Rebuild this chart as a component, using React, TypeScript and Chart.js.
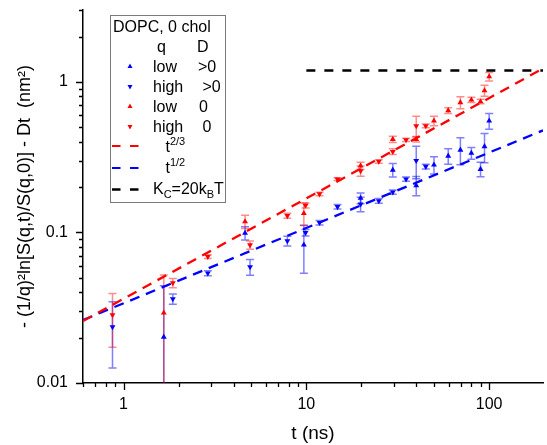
import React, { useEffect, useRef } from "react";
import { Chart, registerables } from "chart.js";

Chart.register(...registerables);

// ---------- data ----------
// low q (upward triangles)
const tLow = [1.66, 4.62, 9.69, 19.8, 29.7, 39.9, 49.9, 59.7, 69.6, 79.9, 89.7, 94.3, 100];
const blueLow = [0.0202, 0.099, 0.0826, 0.169, 0.26, 0.205, 0.281, 0.322, 0.353, 0.336, 0.263, 0.372, 0.551];
const blueLowErr = [0.024, 0.01, 0.029, 0.014, 0.027, 0.03, 0.037, 0.038, 0.072, 0.03, 0.029, 0.082, 0.066];
const redLow = [0.0292, 0.118, 0.134, 0.277, 0.416, 0.416, 0.551, 0.645, 0.729, 0.759, 0.74, 0.875, 1.084];
const redLowErr = [0.023, 0.012, 0.023, 0.015, 0.02, 0.018, 0.04, 0.028, 0.066, 0.03, 0.025, 0.074, 0.07];

// high q (downward triangles)
const tHigh = [0.87, 1.86, 2.89, 4.92, 7.87, 9.9, 11.8, 14.8, 19.8, 24.9, 29.7, 35.1, 39.9, 45.0];
const blueHigh = [0.0236, 0.0362, 0.0536, 0.059, 0.0879, 0.0997, 0.116, 0.148, 0.154, 0.162, 0.185, 0.226, 0.3, 0.274];
const blueHighErr = [0.011, 0.0028, 0.002, 0.007, 0.0065, 0.005, 0.004, 0.005, 0.017, 0.006, 0.006, 0.007, 0.073, 0.01];
const redHigh = [0.0283, 0.0462, 0.069, 0.0825, 0.129, 0.151, 0.18, 0.226, 0.256, 0.296, 0.344, 0.412, 0.51, 0.51];
const redHighErr = [0.011, 0.0033, 0.002, 0.0053, 0.005, 0.006, 0.005, 0.005, 0.02, 0.008, 0.015, 0.01, 0.08, 0.015];

// guide lines (end points)
const fit23T = [0.6, 197];
const fit23Y = [0.0258, 1.226];
const fit12T = [0.6, 197];
const fit12Y = [0.0262, 0.476];
const kcT = [10, 197];
const kcY = [1.19, 1.19];

// axes
const xMin = 0.6;
const xMax = 197;
const yMin = 0.01;
const yMax = 3;
const xTickValues = [1, 10, 100];
const yTickValues = [0.01, 0.1, 1];
const xTitle = "t (ns)";
const yTitle = "- (1/q)\u00B2ln[S(q,t)/S(q,0)] - Dt  (nm\u00B2)";

// legend
const legendTitle = "DOPC, 0 chol";
const legendQ = ["low", "high", "low", "high"];
const legendD = [">0", " >0", "0", " 0"];

const BLUE = "#0000ff";
const RED = "#ff0000";
const FONT = '"Liberation Sans", Arial, sans-serif';

const toPts = (xs: number[], ys: number[]) => xs.map((x, i) => ({ x, y: ys[i] }));

function tri(ctx: CanvasRenderingContext2D, x: number, y: number, r: number, down: boolean, color: string) {
  const s = down ? -1 : 1;
  ctx.beginPath();
  ctx.moveTo(x, y - s * r);
  ctx.lineTo(x - r * 0.866, y + s * r * 0.5);
  ctx.lineTo(x + r * 0.866, y + s * r * 0.5);
  ctx.closePath();
  ctx.fillStyle = color;
  ctx.fill();
}

const errorBarPlugin = {
  id: "errorBars",
  beforeDatasetsDraw(chart: any) {
    const { ctx, chartArea, scales } = chart;
    const xs = scales.x;
    const ys = scales.y;
    ctx.save();
    ctx.beginPath();
    ctx.rect(chartArea.left, chartArea.top, chartArea.right - chartArea.left, chartArea.bottom - chartArea.top);
    ctx.clip();
    chart.data.datasets.forEach((ds: any) => {
      if (!ds.errors) return;
      ctx.strokeStyle = ds.errorColor;
      ctx.lineWidth = 1.5;
      ds.data.forEach((p: any, i: number) => {
        const e = ds.errors[i];
        const px = xs.getPixelForValue(p.x);
        const hi = ys.getPixelForValue(p.y + e);
        const lo = p.y - e > 0 ? ys.getPixelForValue(p.y - e) : chartArea.bottom + 20;
        ctx.beginPath();
        ctx.moveTo(px, hi);
        ctx.lineTo(px, lo);
        ctx.moveTo(px - 4, hi);
        ctx.lineTo(px + 4, hi);
        ctx.moveTo(px - 4, lo);
        ctx.lineTo(px + 4, lo);
        ctx.stroke();
      });
    });
    ctx.restore();
  },
};

const minorValues = (lo: number, hi: number) => {
  const out: number[] = [];
  for (let d = 0.001; d <= 1000; d *= 10) {
    for (let k = 1; k <= 9; k++) {
      const v = +(d * k).toPrecision(6);
      if (v >= lo * 0.9999 && v <= hi * 1.0001) out.push(v);
    }
  }
  return out;
};

const tickPlugin = {
  id: "axisTicks",
  afterDraw(chart: any) {
    const { ctx, chartArea, scales } = chart;
    ctx.save();
    ctx.strokeStyle = "#000";
    ctx.lineWidth = 1.3;
    ctx.beginPath();
    minorValues(xMin, xMax).forEach((v) => {
      const major = xTickValues.some((m) => Math.abs(m - v) < 1e-9);
      const px = Math.round(scales.x.getPixelForValue(v)) + 0.5;
      ctx.moveTo(px, chartArea.bottom);
      ctx.lineTo(px, chartArea.bottom + (major ? 7 : 4));
    });
    minorValues(yMin, yMax).forEach((v) => {
      const major = yTickValues.some((m) => Math.abs(m - v) < 1e-9);
      const py = Math.round(scales.y.getPixelForValue(v)) + 0.5;
      ctx.moveTo(chartArea.left, py);
      ctx.lineTo(chartArea.left - (major ? 7 : 4), py);
    });
    ctx.stroke();
    ctx.restore();
  },
};

const legendPlugin = {
  id: "customLegend",
  afterDraw(chart: any) {
    const ctx: CanvasRenderingContext2D = chart.ctx;
    ctx.save();
    ctx.fillStyle = "#fff";
    ctx.fillRect(110.5, 15.5, 115, 187);
    ctx.strokeStyle = "#7a7a7a";
    ctx.lineWidth = 1;
    ctx.strokeRect(110.5, 15.5, 115, 187);

    const big = `16px ${FONT}`;
    const small = `11px ${FONT}`;
    ctx.font = big;
    ctx.fillStyle = "#000";
    ctx.textAlign = "left";
    ctx.textBaseline = "alphabetic";
    ctx.fillText(legendTitle, 113, 32);
    ctx.fillText("q", 157, 52);
    ctx.fillText("D", 197, 52);

    const colors = [BLUE, BLUE, RED, RED];
    const downs = [false, true, false, true];
    const baselines = [72, 92, 112, 132];
    const dx = [198, 198, 199, 198];
    for (let i = 0; i < 4; i++) {
      tri(ctx, 130, baselines[i] - 5.5, 2.9, downs[i], colors[i]);
      ctx.fillStyle = "#000";
      ctx.font = big;
      ctx.fillText(legendQ[i], 153, baselines[i]);
      ctx.fillText(legendD[i], dx[i], baselines[i]);
    }

    const dash = (y: number, color: string, w: number) => {
      ctx.strokeStyle = color;
      ctx.lineWidth = w;
      ctx.beginPath();
      ctx.moveTo(112, y);
      ctx.lineTo(120.5, y);
      ctx.moveTo(130, y);
      ctx.lineTo(138.5, y);
      ctx.stroke();
    };
    dash(146, RED, 2.2);
    dash(168, BLUE, 2.2);
    dash(189.5, "#000", 2.5);

    const sup = (base: string, s: string, x: number, y: number) => {
      ctx.fillStyle = "#000";
      ctx.font = big;
      ctx.fillText(base, x, y);
      const w = ctx.measureText(base).width;
      ctx.font = small;
      ctx.fillText(s, x + w, y - 7);
    };
    sup("t", "2/3", 165.5, 152);
    sup("t", "1/2", 165.5, 173);

    // K_C=20k_BT
    let x = 153;
    const y = 194;
    const parts: [string, boolean][] = [["K", false], ["C", true], ["=20k", false], ["B", true], ["T", false]];
    parts.forEach(([txt, sub]) => {
      ctx.font = sub ? small : big;
      ctx.fillStyle = "#000";
      ctx.fillText(txt, x, sub ? y + 4 : y);
      x += ctx.measureText(txt).width;
    });
    ctx.restore();
  },
};

export default function App() {
  const ref = useRef<HTMLCanvasElement | null>(null);

  useEffect(() => {
    if (!ref.current) return;
    const lineBase = { showLine: true, pointRadius: 0, fill: false, borderDash: [10, 7] };
    const chart = new Chart(ref.current, {
      type: "scatter",
      data: {
        datasets: [
          { ...lineBase, label: "t^2/3", data: toPts(fit23T, fit23Y), borderColor: RED, borderWidth: 2.3 },
          { ...lineBase, label: "t^1/2", data: toPts(fit12T, fit12Y), borderColor: BLUE, borderWidth: 2.3 },
          { ...lineBase, label: "Kc", data: toPts(kcT, kcY), borderColor: "#000", borderWidth: 2.5, borderDash: [9, 9] },
          {
            label: "low >0", data: toPts(tLow, blueLow), errors: blueLowErr, errorColor: "rgba(0,0,255,0.5)",
            pointStyle: "triangle", rotation: 0, pointRadius: 3.4, backgroundColor: BLUE, borderColor: BLUE, borderWidth: 0,
          },
          {
            label: "high >0", data: toPts(tHigh, blueHigh), errors: blueHighErr, errorColor: "rgba(0,0,255,0.5)",
            pointStyle: "triangle", rotation: 180, pointRadius: 3.4, backgroundColor: BLUE, borderColor: BLUE, borderWidth: 0,
          },
          {
            label: "low 0", data: toPts(tLow, redLow), errors: redLowErr, errorColor: "rgba(255,0,0,0.45)",
            pointStyle: "triangle", rotation: 0, pointRadius: 3.4, backgroundColor: RED, borderColor: RED, borderWidth: 0,
          },
          {
            label: "high 0", data: toPts(tHigh, redHigh), errors: redHighErr, errorColor: "rgba(255,0,0,0.45)",
            pointStyle: "triangle", rotation: 180, pointRadius: 3.4, backgroundColor: RED, borderColor: RED, borderWidth: 0,
          },
        ] as any,
      },
      options: {
        animation: false,
        responsive: false,
        events: [],
        layout: { padding: { top: 10, right: 0, left: 0, bottom: 0 } },
        plugins: { legend: { display: false }, tooltip: { enabled: false } },
        scales: {
          x: {
            type: "logarithmic",
            min: xMin,
            max: xMax,
            grid: { display: false, drawTicks: true, tickLength: 12 },
            border: { display: true, color: "#000", width: 1.5 },
            afterBuildTicks: (s: any) => {
              s.ticks = xTickValues.map((v) => ({ value: v }));
            },
            afterFit: (s: any) => {
              s.height = 62;
            },
            ticks: {
              autoSkip: false,
              maxRotation: 0,
              padding: 0,
              color: "#000",
              font: { family: FONT, size: 16 },
              callback: (v: any) => String(v),
            },
            title: {
              display: true,
              text: xTitle,
              color: "#000",
              font: { family: FONT, size: 19 },
              padding: { top: 0, bottom: 0 },
            },
          },
          y: {
            type: "logarithmic",
            min: yMin,
            max: yMax,
            grid: { display: false, drawTicks: true, tickLength: 15 },
            border: { display: true, color: "#000", width: 1.5 },
            afterBuildTicks: (s: any) => {
              s.ticks = yTickValues.map((v) => ({ value: v }));
            },
            afterFit: (s: any) => {
              s.width = 83;
            },
            ticks: {
              autoSkip: false,
              padding: 0,
              color: "#000",
              font: { family: FONT, size: 16 },
              callback: (v: any) => String(v),
            },
            title: {
              display: true,
              text: yTitle,
              color: "#000",
              font: { family: FONT, size: 18 },
              padding: { top: 14, bottom: 0 },
            },
          },
        },
      },
      plugins: [errorBarPlugin, tickPlugin, legendPlugin],
    } as any);
    return () => chart.destroy();
  }, []);

  return (
    <div style={{ position: "absolute", left: 0, top: 0, width: 547, height: 445, background: "#fff" }}>
      <canvas ref={ref} width={547} height={445} style={{ display: "block" }} />
    </div>
  );
}
